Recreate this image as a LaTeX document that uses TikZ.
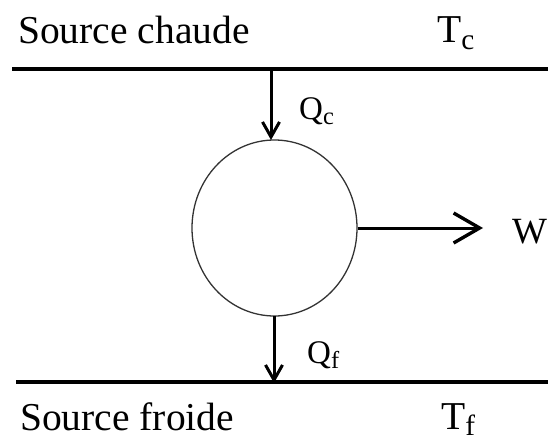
\documentclass[tikz,border=0pt]{standalone}
\usepackage{fontspec}
\setmainfont{Liberation Serif}
\usepackage{xcolor}
\usetikzlibrary{arrows.meta,shapes.geometric}
\definecolor{MoteurInk}{HTML}{000000}
\definecolor{MoteurRing}{HTML}{333333}
\newcommand{\indice}[1]{\raisebox{-0.16em}{\scalebox{0.74}{#1}}}

\begin{document}
\begin{tikzpicture}[x=1pt,y=-1pt,
    reservoir/.style={MoteurInk, line width=3.2pt},
    flux/.style={MoteurInk, line width=3pt, -{Straight Barb[length=15pt,width=17pt,line width=3pt]}},
    travail/.style={MoteurInk, line width=3pt, -{Straight Barb[length=26pt,width=30pt,line width=3.4pt]}},
    titre/.style={anchor=base west, inner sep=0pt, font=\fontsize{39.5pt}{44pt}\selectfont},
    chaleur/.style={anchor=base west, inner sep=0pt, font=\fontsize{33pt}{38pt}\selectfont}]
        \useasboundingbox (0,0) rectangle (548,441);
        \coordinate (chaudG) at (12,69);
        \coordinate (chaudD) at (548,69);
        \coordinate (froidG) at (16,382);
        \coordinate (froidD) at (548,382);
        \draw[reservoir] (chaudG) -- (chaudD);
        \draw[reservoir] (froidG) -- (froidD);
        \node[draw=MoteurRing, line width=1.3pt, ellipse, minimum width=165pt, minimum height=176pt, inner sep=0pt] (moteur) at (274.5,228) {};
        \coordinate (qcHaut) at (271,69);
        \coordinate (qcBas) at (271,140);
        \coordinate (qfHaut) at (274,316);
        \coordinate (qfBas) at (274,383);
        \coordinate (wFin) at (483,228);
        \draw[flux] (qcHaut) -- (qcBas);
        \draw[flux] (qfHaut) -- (qfBas);
        \draw[travail] (moteur.east) -- (wFin);
        \node[titre] (chaude) at (18,44) {Source chaude};
        \node[titre] (tc) at (437,43) {T\indice{c}};
        \node[chaleur] (qc) at (299,119) {Q\indice{c}};
        \node[titre, font=\fontsize{37pt}{42pt}\selectfont] (w) at (512,243) {W};
        \node[chaleur] (qf) at (307,363) {Q\indice{f}};
        \node[titre] (froide) at (20,430) {Source froide};
        \node[titre] (tf) at (441,429) {T\indice{f}};
      \end{tikzpicture}
\end{document}
